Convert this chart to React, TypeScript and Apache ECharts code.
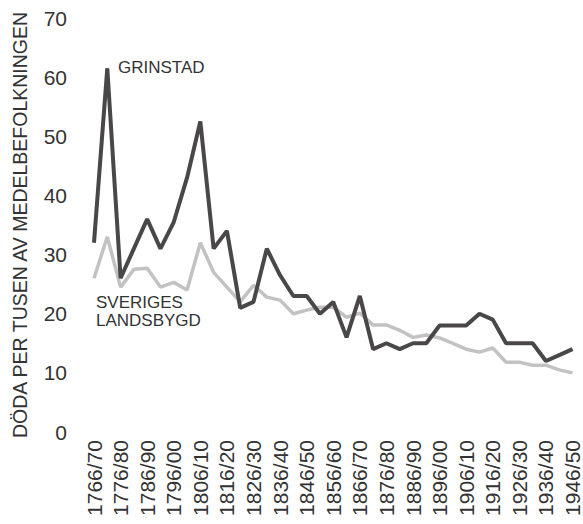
import React, { useEffect, useRef } from "react";
import * as echarts from "echarts";

const categories = [
  "1766/70", "1771/75", "1776/80", "1781/85", "1786/90", "1791/95", "1796/00",
  "1801/05", "1806/10", "1811/15", "1816/20", "1821/25", "1826/30", "1831/35",
  "1836/40", "1841/45", "1846/50", "1851/55", "1856/60", "1861/65", "1866/70",
  "1871/75", "1876/80", "1881/85", "1886/90", "1891/95", "1896/00", "1901/05",
  "1906/10", "1911/15", "1916/20", "1921/25", "1926/30", "1931/35", "1936/40",
  "1941/45", "1946/50",
];

const grinstad = [
  32, 61.5, 26, 31, 36, 31, 35.5, 43, 52.5, 31, 34, 21, 22, 31, 26.5, 23, 23, 20,
  22, 16, 23, 14, 15, 14, 15, 15, 18, 18, 18, 20, 19, 15, 15, 15, 12, 13, 14,
];

const sverigesLandsbygd = [
  26, 33, 24.5, 27.5, 27.7, 24.5, 25.3, 24, 32, 27, 24.5, 22, 24.8, 22.8, 22.3, 20,
  20.6, 21.1, 21.1, 19.4, 20.1, 18.1, 18.1, 17.2, 16, 16.4, 15.9, 15, 14, 13.5,
  14.2, 11.8, 11.8, 11.3, 11.3, 10.5, 10,
];

const yTitle = "DÖDA PER TUSEN AV MEDELBEFOLKNINGEN";
const FONT = "'Liberation Sans', Arial, sans-serif";
const TEXT = "#333333";

export default function App() {
  const ref = useRef<HTMLDivElement>(null);
  useEffect(() => {
    if (!ref.current) return;
    const chart = echarts.init(ref.current, undefined, { renderer: "svg" });
    chart.setOption({
      animation: false,
      backgroundColor: "#ffffff",
      textStyle: { fontFamily: FONT },
      grid: { left: 94, right: 8, top: 18, bottom: 92, containLabel: false },
      xAxis: {
        type: "category",
        data: categories,
        boundaryGap: false,
        axisLine: { show: false },
        axisTick: { show: false },
        axisLabel: {
          interval: 1,
          rotate: 90,
          margin: 8,
          fontSize: 21,
          color: TEXT,
          fontFamily: FONT,
        },
      },
      yAxis: {
        type: "value",
        min: 0,
        max: 70,
        interval: 10,
        splitLine: { show: false },
        axisLine: { show: false },
        axisTick: { show: false },
        axisLabel: { fontSize: 21, margin: 27, color: TEXT, fontFamily: FONT },
        name: yTitle,
        nameLocation: "middle",
        nameGap: 64,
        nameRotate: 90,
        nameTextStyle: { fontSize: 19.5, color: TEXT, fontFamily: FONT },
      },
      series: [
        {
          name: "SVERIGES LANDSBYGD",
          type: "line",
          data: sverigesLandsbygd,
          symbol: "none",
          lineStyle: { color: "#c2c2c2", width: 3.5 },
          z: 2,
        },
        {
          name: "GRINSTAD",
          type: "line",
          data: grinstad,
          symbol: "none",
          lineStyle: { color: "#4a4748", width: 4 },
          z: 3,
        },
      ],
      graphic: [
        {
          type: "text",
          left: 118,
          top: 59,
          style: { text: "GRINSTAD", fontSize: 17, fill: TEXT, fontFamily: FONT },
        },
        {
          type: "text",
          left: 96,
          top: 293,
          style: {
            text: "SVERIGES\nLANDSBYGD",
            fontSize: 17,
            lineHeight: 18,
            fill: TEXT,
            fontFamily: FONT,
          },
        },
      ],
    });
    return () => chart.dispose();
  }, []);
  return (
    <div
      ref={ref}
      style={{ position: "fixed", left: 0, top: 0, width: 583, height: 524 }}
    />
  );
}
